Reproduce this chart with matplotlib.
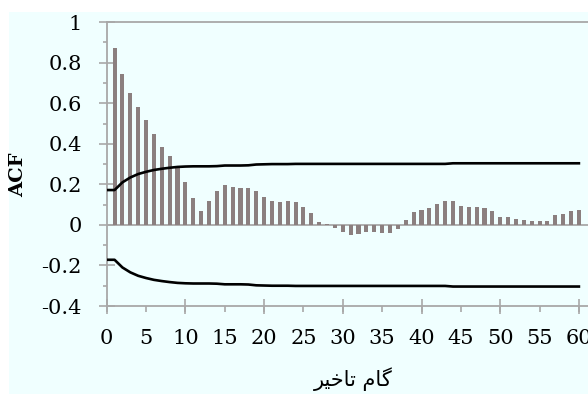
import numpy as np
import matplotlib
matplotlib.use("Agg")
import matplotlib.pyplot as plt
from matplotlib.patches import Rectangle
from matplotlib.ticker import FixedLocator, FuncFormatter

plt.rcParams['axes.unicode_minus'] = False

lags = list(range(1, 61))
acf = [0.875, 0.746, 0.652, 0.581, 0.518, 0.449, 0.385, 0.340, 0.284, 0.214,
       0.132, 0.069, 0.119, 0.169, 0.196, 0.189, 0.182, 0.182, 0.169, 0.138,
       0.119, 0.112, 0.119, 0.112, 0.086, 0.058, 0.015, 0.003, -0.013, -0.033,
       -0.051, -0.043, -0.033, -0.033, -0.038, -0.038, -0.020, 0.023, 0.063, 0.074,
       0.083, 0.102, 0.119, 0.119, 0.094, 0.088, 0.088, 0.081, 0.068, 0.038,
       0.038, 0.030, 0.023, 0.018, 0.018, 0.018, 0.050, 0.056, 0.069, 0.074]

bound_lags = list(range(0, 61))
upper = [0.172, 0.172, 0.210, 0.234, 0.251, 0.262, 0.271, 0.277, 0.282, 0.286,
         0.288, 0.289, 0.289, 0.289, 0.290, 0.293, 0.293, 0.293, 0.294, 0.298,
         0.299, 0.300, 0.300, 0.300, 0.301, 0.301, 0.301, 0.301, 0.301, 0.301,
         0.301, 0.301, 0.301, 0.301, 0.301, 0.301, 0.301, 0.301, 0.301, 0.301,
         0.301, 0.301, 0.301, 0.301, 0.304, 0.304, 0.304, 0.304, 0.304, 0.304,
         0.304, 0.304, 0.304, 0.304, 0.304, 0.304, 0.304, 0.304, 0.304, 0.304,
         0.304]
lower = [-v for v in upper]

x_ticks = list(range(0, 61, 5))
y_ticks = [-0.4, -0.2, 0, 0.2, 0.4, 0.6, 0.8, 1]
y_label = "ACF"
# Persian "گام تاخیر" in presentation forms, visual order
x_label = "\uFEAE\uFEF4\uFEA7\uFE8E\uFE97 \uFEE1\uFE8E\uFB94"

W, H = 588, 394
fig = plt.figure(figsize=(W / 100, H / 100), dpi=100)
fig.patch.set_facecolor('white')
fig.patches.append(Rectangle((9 / W, 0), 1, 1 - 12 / H, transform=fig.transFigure,
                             facecolor='#F0FFFF', edgecolor='none', zorder=-5))

left_px, top_px, bottom_px = 106.7, 22.2, 306.0
ax = fig.add_axes([left_px / W, 1 - bottom_px / H, 1 - left_px / W, (bottom_px - top_px) / H])
ax.set_zorder(2)
ax.set_facecolor('none')

grey = '#A8A8A8'
ax.bar(lags, acf, width=0.52, color='#8B7F7F', zorder=2)
ax.plot(bound_lags, upper, color='black', lw=1.9, zorder=3)
ax.plot(bound_lags, lower, color='black', lw=1.9, zorder=3)
ax.axhline(0, color=grey, lw=1.3, zorder=1)
ax.axhline(1, color=grey, lw=1.3, zorder=1, clip_on=False)

ax.set_xlim(0, (W - left_px) / 7.87)
ax.set_ylim(-0.4, 1)

for s in ['top', 'right']:
    ax.spines[s].set_visible(False)
for s in ['left', 'bottom']:
    ax.spines[s].set_color(grey)
    ax.spines[s].set_linewidth(1.3)

serif = ['DejaVu Serif']
ax.set_xticks(x_ticks)
ax.xaxis.set_minor_locator(FixedLocator(list(range(0, 61, 10))))
ax.xaxis.remove_overlapping_locs = False
ax.tick_params(axis='x', which='major', direction='out', length=4.3, width=1.2,
               color=grey, pad=12.5, labelsize=15)
ax.tick_params(axis='x', which='minor', direction='inout', length=10.8, width=1.2,
               color=grey)

ax.set_yticks(y_ticks)
ax.yaxis.set_major_formatter(FuncFormatter(lambda v, p: '%g' % round(v, 2)))
ax.yaxis.set_minor_locator(FixedLocator([-0.3, -0.1, 0.1, 0.3, 0.5, 0.7, 0.9]))
ax.tick_params(axis='y', which='major', direction='inout', length=12, width=1.2,
               color=grey, pad=12, labelsize=15)
ax.tick_params(axis='y', which='minor', direction='out', length=3.2, width=1.2,
               color=grey)
for lab in ax.get_xticklabels() + ax.get_yticklabels():
    lab.set_family(serif)

fig.text(18.5 / W, 1 - 175 / H, y_label, rotation=90, ha='center', va='center',
         family=serif, fontweight='bold', fontsize=14)
fig.text(353 / W, 1 - 379 / H, x_label, ha='center', va='center',
         family=['DejaVu Sans'], fontsize=15)

fig.savefig('out.png', dpi=100)
